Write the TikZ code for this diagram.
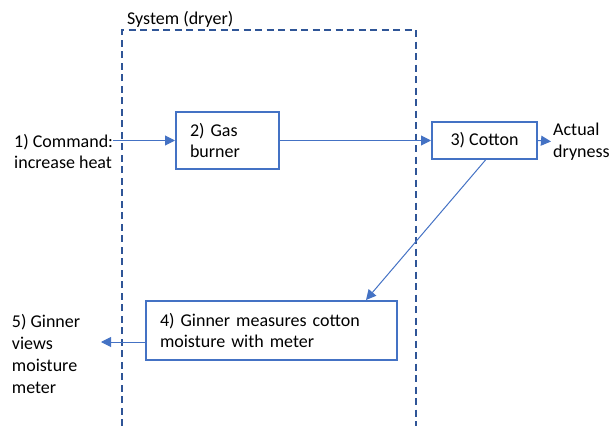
\documentclass[tikz,border=0pt]{standalone}
\usepackage{fontspec}
\setmainfont{Carlito}
\usepackage{tikz}
\usetikzlibrary{arrows.meta,positioning}
\definecolor{boxblue}{HTML}{4472C4}
\definecolor{sysblue}{HTML}{2F5597}

\begin{document}
\begin{tikzpicture}[x=1pt,y=-1pt]
\tikzstyle{every node}+=[inner sep=0pt,font=\fontsize{18}{21.5}\selectfont]
\tikzstyle{block}=[draw=boxblue,line width=2pt,rectangle]
\tikzstyle{flow}=[draw=boxblue,line width=1pt,-{Triangle[length=10pt,width=10pt]}]
\useasboundingbox (0,0) rectangle (614,426);
\draw [sysblue,line width=2.3pt,dash pattern=on 7pt off 4.5pt] (122,426) -- (122,30) -- (416,30) -- (416,426);
\draw (127,19) node (syslabel) [anchor=west] {System (dryer)};
\draw (14,151.5) node (cmd) [anchor=west,align=left] {1) Command:\\increase heat};
\draw (227.5,140.5) node (gas) [block,minimum width=103pt,minimum height=57pt,inner xsep=14pt,text width=75pt,align=left] {2) Gas\\burner};
\draw (484.5,140.5) node (cotton) [block,minimum width=105pt,minimum height=37pt] {3) Cotton};
\draw (553,141.5) node (actual) [anchor=west,align=left] {Actual\\dryness};
\draw (271.5,330.5) node (meas) [block,minimum width=251pt,minimum height=59pt,inner xsep=14pt,text width=223pt,align=left] {4) Ginner measures cotton\\moisture with meter};
\draw (11.7,353.5) node (viewer) [anchor=west,align=left,font=\fontsize{18}{22}\selectfont] {5) Ginner\\views\\moisture\\meter};
\coordinate (viewin) at (101,342);
\draw [flow] (cmd.east |- gas.west) -- (gas.west);
\draw [flow] (gas.east) -- (cotton.west);
\draw [flow] (cotton.east) -- ([xshift=-2pt]actual.west);
\draw [flow] ([xshift=1pt]cotton.south) -- ([xshift=-32pt]meas.north east);
\draw [flow] (meas.west |- viewin) -- (viewin);
\end{tikzpicture}
\end{document}
